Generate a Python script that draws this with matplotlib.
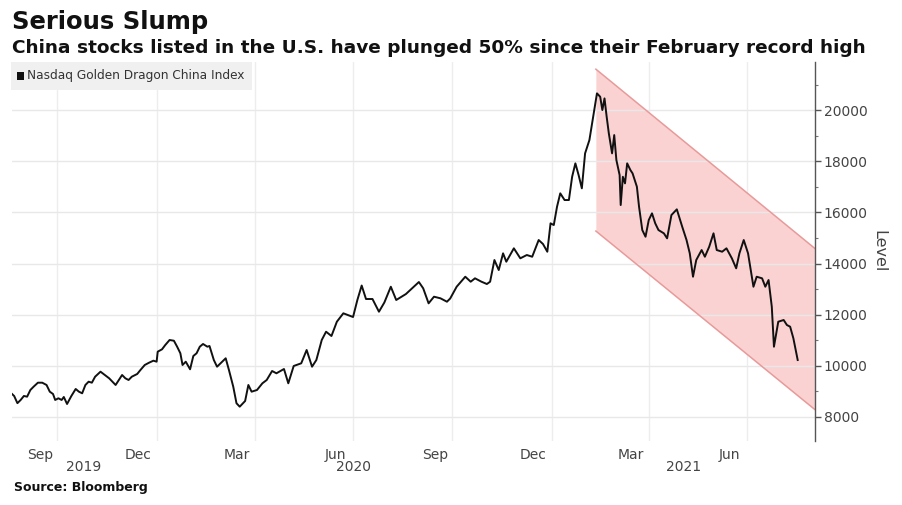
import matplotlib
matplotlib.use("Agg")
import matplotlib.pyplot as plt
import pandas as pd
from matplotlib.patches import Rectangle
from matplotlib.ticker import MultipleLocator
import matplotlib.transforms as mtransforms

# ---- data ----
dates = [
    "2019-08-20", "2019-08-22", "2019-08-25", "2019-08-28", "2019-08-31", "2019-09-03",
    "2019-09-06", "2019-09-09", "2019-09-13", "2019-09-17", "2019-09-21", "2019-09-24",
    "2019-09-27", "2019-09-29", "2019-10-02", "2019-10-05", "2019-10-07", "2019-10-10",
    "2019-10-14", "2019-10-18", "2019-10-21", "2019-10-24", "2019-10-27", "2019-10-30",
    "2019-11-02", "2019-11-05", "2019-11-10", "2019-11-14", "2019-11-18", "2019-11-21",
    "2019-11-24", "2019-11-27", "2019-11-30", "2019-12-03", "2019-12-06", "2019-12-09",
    "2019-12-14", "2019-12-17", "2019-12-21", "2019-12-25", "2019-12-29", "2020-01-01",
    "2020-01-02", "2020-01-06", "2020-01-09", "2020-01-13", "2020-01-17", "2020-01-20",
    "2020-01-23", "2020-01-25", "2020-01-28", "2020-02-01", "2020-02-04", "2020-02-07",
    "2020-02-10", "2020-02-13", "2020-02-17", "2020-02-19", "2020-02-23", "2020-02-26",
    "2020-03-05", "2020-03-08", "2020-03-12", "2020-03-15", "2020-03-18", "2020-03-23",
    "2020-03-26", "2020-03-29", "2020-04-03", "2020-04-08", "2020-04-12", "2020-04-17",
    "2020-04-21", "2020-04-28", "2020-05-02", "2020-05-07", "2020-05-14", "2020-05-19",
    "2020-05-24", "2020-05-28", "2020-06-02", "2020-06-06", "2020-06-11", "2020-06-16",
    "2020-06-22", "2020-07-01", "2020-07-05", "2020-07-09", "2020-07-13", "2020-07-19",
    "2020-07-25", "2020-07-30", "2020-08-05", "2020-08-10", "2020-08-15", "2020-08-19",
    "2020-08-25", "2020-08-31", "2020-09-04", "2020-09-09", "2020-09-14", "2020-09-20",
    "2020-09-26", "2020-09-29", "2020-10-05", "2020-10-13", "2020-10-18", "2020-10-22",
    "2020-10-28", "2020-11-02", "2020-11-05", "2020-11-09", "2020-11-13", "2020-11-17",
    "2020-11-20", "2020-11-27", "2020-12-03", "2020-12-09", "2020-12-14", "2020-12-20",
    "2020-12-24", "2020-12-28", "2020-12-31", "2021-01-03", "2021-01-06", "2021-01-09",
    "2021-01-13", "2021-01-17", "2021-01-20", "2021-01-23", "2021-01-26", "2021-01-29",
    "2021-02-01", "2021-02-05", "2021-02-09", "2021-02-12", "2021-02-15", "2021-02-17",
    "2021-02-19", "2021-02-21", "2021-02-23", "2021-02-26", "2021-02-28", "2021-03-02",
    "2021-03-05", "2021-03-06", "2021-03-08", "2021-03-10", "2021-03-12", "2021-03-15",
    "2021-03-17", "2021-03-21", "2021-03-23", "2021-03-26", "2021-03-29", "2021-04-01",
    "2021-04-04", "2021-04-07", "2021-04-10", "2021-04-15", "2021-04-18", "2021-04-22",
    "2021-04-27", "2021-05-02", "2021-05-06", "2021-05-09", "2021-05-12", "2021-05-15",
    "2021-05-20", "2021-05-23", "2021-05-27", "2021-05-31", "2021-06-03", "2021-06-08",
    "2021-06-12", "2021-06-17", "2021-06-21", "2021-06-24", "2021-06-28", "2021-07-02",
    "2021-07-07", "2021-07-10", "2021-07-15", "2021-07-18", "2021-07-21", "2021-07-24",
    "2021-07-26", "2021-07-30", "2021-08-04", "2021-08-07", "2021-08-10", "2021-08-13",
    "2021-08-17",
]
levels = [
    8900, 8820, 8540, 8665, 8821, 8794,
    9055, 9184, 9341, 9341, 9251, 8989,
    8899, 8665, 8731, 8665, 8782, 8508,
    8821, 9095, 8989, 8926, 9251, 9380,
    9341, 9575, 9771, 9642, 9513, 9380,
    9251, 9446, 9642, 9513, 9446, 9575,
    9681, 9837, 10033, 10123, 10201, 10162,
    10553, 10646, 10814, 11010, 10982, 10748,
    10490, 10033, 10162, 9865, 10384, 10490,
    10748, 10854, 10748, 10775, 10228, 9966,
    10295, 9837, 9184, 8536, 8403, 8625,
    9251, 8989, 9055, 9317, 9446, 9798,
    9708, 9876, 9317, 9994, 10099, 10619,
    9966, 10228, 11010, 11334, 11166, 11725,
    12054, 11909, 12574, 13140, 12613, 12613,
    12116, 12476, 13093, 12574, 12703, 12808,
    13043, 13277, 13031, 12444, 12703, 12640,
    12507, 12632, 13093, 13484, 13289, 13422,
    13289, 13199, 13289, 14137, 13746, 14399,
    14071, 14595, 14204, 14333, 14266, 14919,
    14763, 14462, 15572, 15505, 16221, 16745,
    16483, 16483, 17393, 17917, 17460, 16940,
    18308, 18828, 19872, 20654, 20521, 20001,
    20458, 19739, 19090, 18308, 19023, 18046,
    17460, 16287, 17393, 17135, 17917, 17655,
    17526, 17003, 16221, 15310, 15048, 15701,
    15963, 15572, 15310, 15181, 14985, 15896,
    16119, 15439, 14919, 14399, 13484, 14137,
    14528, 14266, 14657, 15181, 14528, 14462,
    14595, 14204, 13813, 14399, 14919, 14399,
    13093, 13484, 13422, 13093, 13355, 12312,
    10748, 11725, 11792, 11596, 11530, 11076,
    10228,
]

# downtrend channel drawn from the February peak
channel_dates = ["2021-02-11 00:00", "2021-09-02 12:00"]
channel_upper = [21600, 14570]
channel_lower = [15270, 8270]

month_ticks = ["2019-09-15", "2019-12-15", "2020-03-15", "2020-06-15",
               "2020-09-15", "2020-12-15", "2021-03-15", "2021-06-15"]
month_labels = ["Sep", "Dec", "Mar", "Jun", "Sep", "Dec", "Mar", "Jun"]
grid_dates = ["2019-10-01", "2020-01-01", "2020-04-01", "2020-07-01",
              "2020-10-01", "2021-01-01", "2021-04-01", "2021-07-01"]
years = [2019, 2020, 2021]
y_ticks = [8000, 10000, 12000, 14000, 16000, 18000, 20000]

x_start = pd.Timestamp("2019-08-20")
x_end = pd.Timestamp("2021-09-02 12:00")

plt.rcParams["font.family"] = ["DejaVu Sans"]

fig = plt.figure(figsize=(9.03, 5.05), dpi=100)
ax = fig.add_axes([0.0133, 0.1267, 0.8898, 0.7505])

# channel
cd = pd.to_datetime(channel_dates)
ax.fill_between(cd, channel_lower, channel_upper, color="#fad2d2", lw=0, zorder=1)
ax.plot(cd, channel_upper, color="#e89a9a", lw=1.1, zorder=2)
ax.plot(cd, channel_lower, color="#e89a9a", lw=1.1, zorder=2)

# index line
ax.plot(pd.to_datetime(dates), levels, color="#111111", lw=1.4, zorder=3)

ax.set_xlim(x_start, x_end)
ax.set_ylim(7060, 21880)

for s in ["left", "top", "bottom"]:
    ax.spines[s].set_visible(False)
ax.spines["right"].set_color("#555555")
ax.spines["right"].set_linewidth(1.0)

# y axis on the right
ax.yaxis.tick_right()
ax.set_yticks(y_ticks)
ax.set_yticklabels([str(v) for v in y_ticks])
ax.yaxis.set_minor_locator(MultipleLocator(1000))
ax.tick_params(axis="y", which="major", direction="out", length=4, width=1,
               color="#555555", labelcolor="#444444", labelsize=10, pad=2)
ax.tick_params(axis="y", which="minor", direction="out", length=2.5, width=0.8,
               color="#777777")
ax.yaxis.set_label_position("right")
ax.set_ylabel("Level", rotation=270, color="#444444", fontsize=11.5, va="bottom")
ax.yaxis.set_label_coords(1.07, 0.5)

# grid
ax.grid(axis="y", which="major", color="#e8e8e8", lw=1, zorder=0)
for g in pd.to_datetime(grid_dates):
    ax.axvline(g, color="#ededed", lw=1, zorder=0)

# month labels
ax.set_xticks(pd.to_datetime(month_ticks))
ax.set_xticklabels(month_labels)
ax.tick_params(axis="x", which="major", length=0, labelsize=10,
               labelcolor="#444444", pad=5)

# year labels at the middle of each visible year
trans = mtransforms.blended_transform_factory(ax.transData, ax.transAxes)
for yr in years:
    a = max(pd.Timestamp(f"{yr}-01-01"), x_start)
    b = min(pd.Timestamp(f"{yr}-12-31"), x_end)
    ax.text(a + (b - a) / 2, -0.069, str(yr), transform=trans, ha="center",
            va="center", fontsize=10, color="#444444")

# legend box
fig.patches.append(Rectangle((11 / 903, 1 - 90 / 505), 241 / 903, 28 / 505,
                             transform=fig.transFigure, facecolor="#f0f0f0",
                             edgecolor="none", zorder=5))
fig.patches.append(Rectangle((17 / 903, 1 - 80 / 505), 7 / 903, 8 / 505,
                             transform=fig.transFigure, facecolor="#111111",
                             edgecolor="none", zorder=6))
fig.text(27 / 903, 1 - 76 / 505, "Nasdaq Golden Dragon China Index",
         fontsize=8.7, color="#333333", va="center", ha="left", zorder=7)

# titles
fig.text(12 / 903, 1 - 29 / 505, "Serious Slump", fontsize=17.5, weight="bold",
         va="baseline", ha="left", color="#111111")
fig.text(12 / 903, 1 - 53 / 505,
         "China stocks listed in the U.S. have plunged 50% since their February record high",
         fontsize=13.3, weight="bold", va="baseline", ha="left", color="#111111")
fig.text(14 / 903, 1 - 488 / 505, "Source: Bloomberg", fontsize=9,
         weight="bold", va="center", ha="left", color="#111111")

fig.savefig("out.png", dpi=100)
